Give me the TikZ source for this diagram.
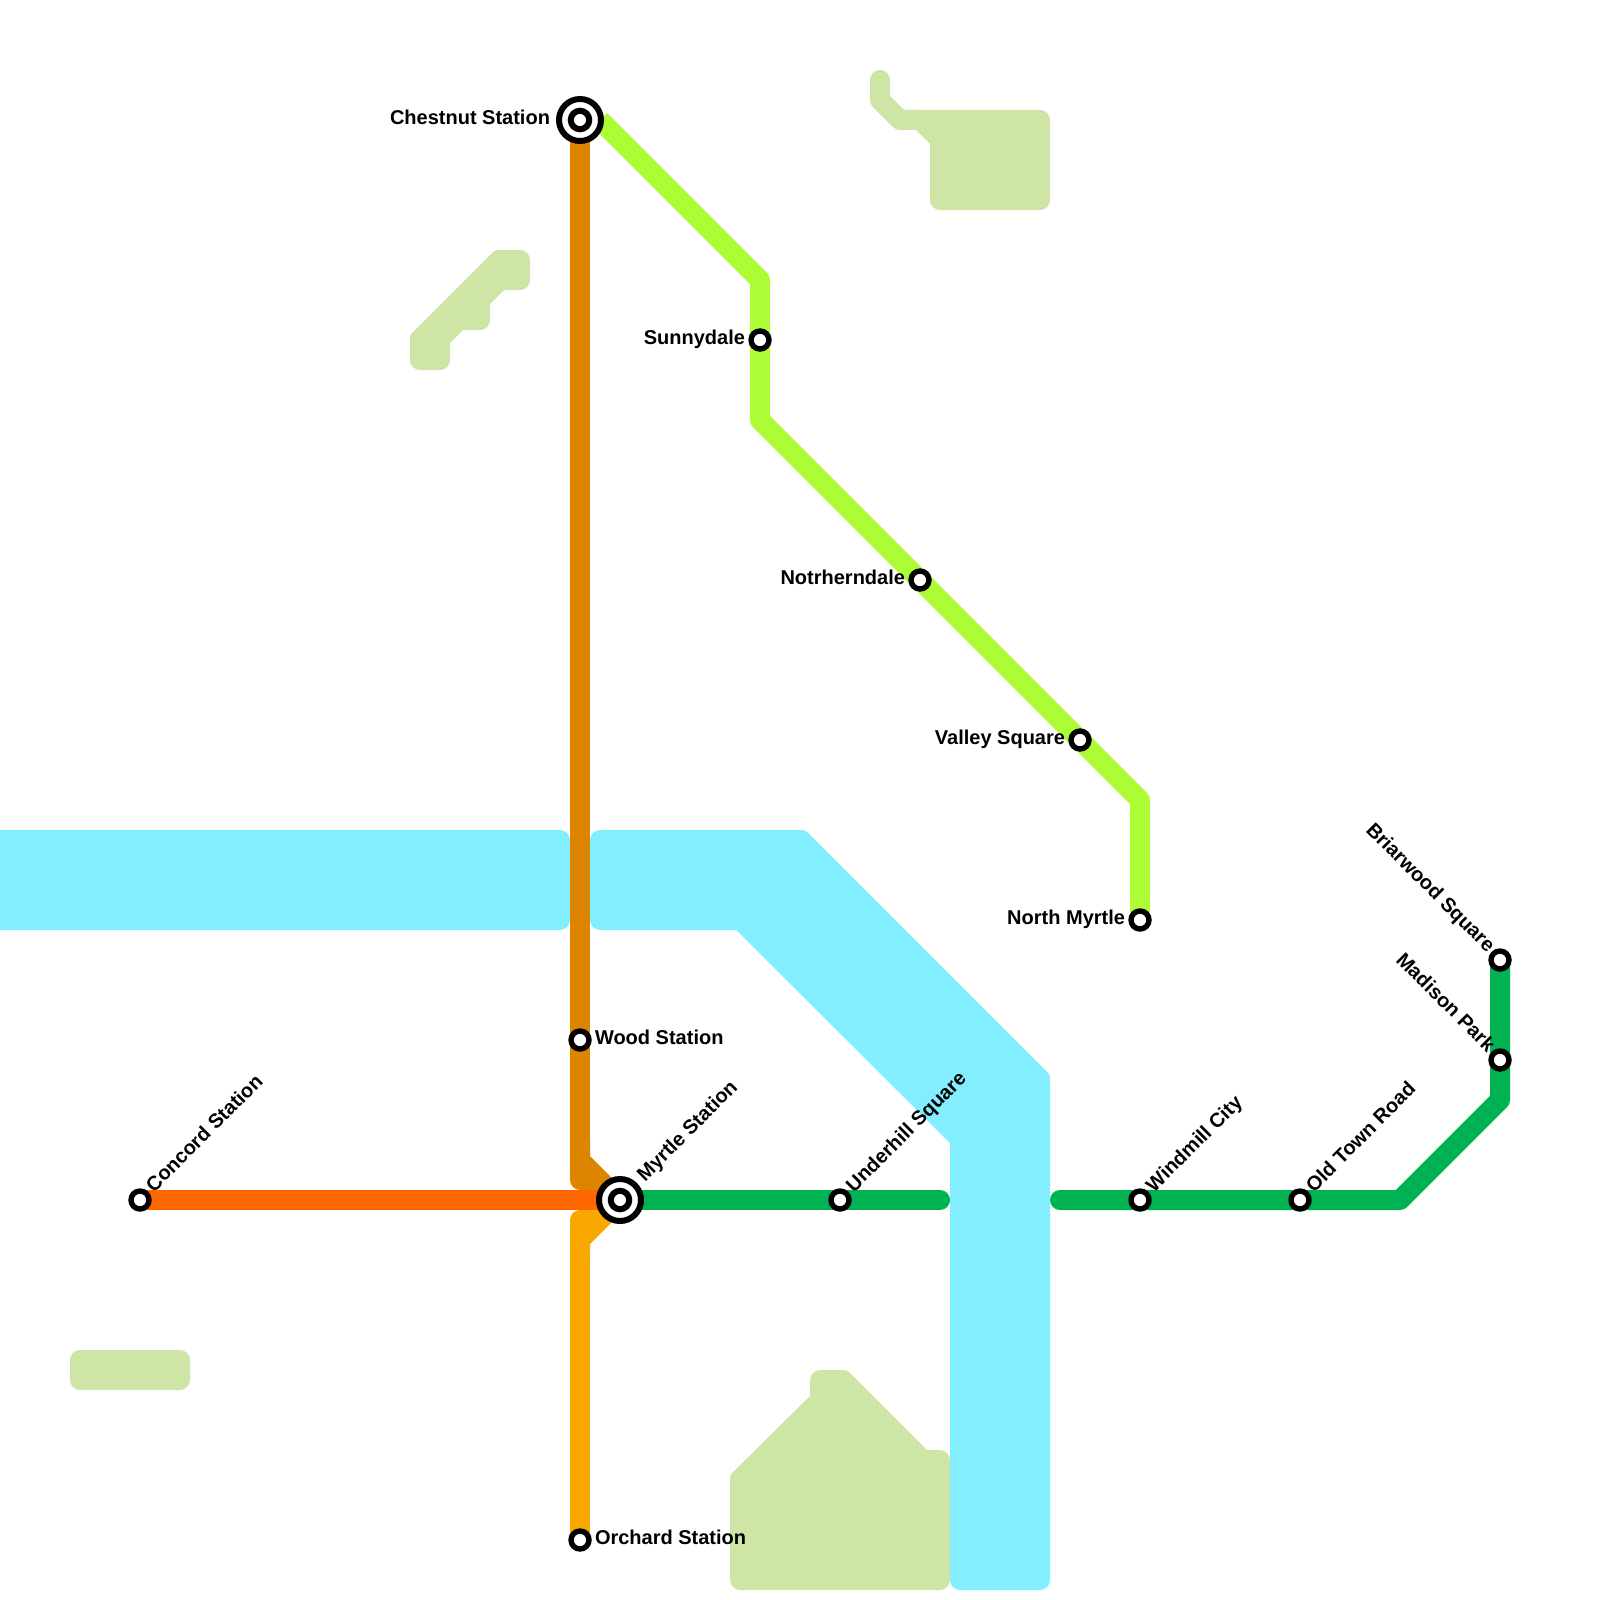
\documentclass[tikz,border=0pt]{standalone}
\usepackage{fontspec}
\setmainfont{Liberation Sans}
\pgfdeclarelayer{under}
\pgfsetlayers{under,main}
\definecolor{river}{HTML}{82EEFF}
\definecolor{park}{HTML}{CFE5A6}
\definecolor{lgreen}{HTML}{00B251}
\definecolor{llime}{HTML}{AEFC36}
\definecolor{lbrown}{HTML}{DD8500}
\definecolor{lred}{HTML}{FF6600}
\definecolor{lamber}{HTML}{F9A800}
\tikzset{
 x=1pt,y=-1pt,
 stn/.style={circle,draw=black,fill=white,line width=5.4pt,minimum size=18pt,inner sep=0pt,outer sep=0pt},
 stnbig/.style={circle,draw=black,fill=white,line width=6pt,minimum size=42pt,inner sep=0pt,outer sep=0pt},
 stnin/.style={circle,draw=black,fill=white,line width=6pt,minimum size=18.5pt,inner sep=0pt,outer sep=0pt},
 txt/.style={font=\fontsize{20}{24}\selectfont\bfseries,inner sep=0pt,outer sep=0pt,text=black},
 lineL/.style={txt,anchor=mid east},
 lineR/.style={txt,anchor=mid west},
 lineU/.style={txt,anchor=base west,rotate=45},
 lineD/.style={txt,anchor=base east,rotate=-45},
 track/.style={line width=20pt,line join=round,line cap=round},
}
\begin{document}
\begin{tikzpicture}
\useasboundingbox (0,0) rectangle (1600,1600);
\clip (0,0) rectangle (1600,1600);
% stations
\node[stnbig] (chestnut) at (580,120) {};
\node[stnin] (chestnutin) at (580,120) {};
\node[stn] (sunnydale) at (760,340) {};
\node[stn] (notrherndale) at (920,580) {};
\node[stn] (valley) at (1080,740) {};
\node[stn] (northmyrtle) at (1140,920) {};
\node[stn] (wood) at (580,1040) {};
\node[stn] (orchard) at (580,1540) {};
\node[stn] (concord) at (140,1200) {};
\node[stnbig] (myrtle) at (620,1200) {};
\node[stnin] (myrtlein) at (620,1200) {};
\node[stn] (underhill) at (840,1200) {};
\node[stn] (windmill) at (1140,1200) {};
\node[stn] (oldtown) at (1300,1200) {};
\node[stn] (madison) at (1500,1060) {};
\node[stn] (briarwood) at (1500,960) {};
% labels
\node[lineL] (tchestnut) at (550,122) {Chestnut Station};
\node[lineL] (tsunny) at (745,342) {Sunnydale};
\node[lineL] (tnot) at (905,582) {Notrherndale};
\node[lineL] (tvalley) at (1065,742) {Valley Square};
\node[lineL] (tnorth) at (1125,922) {North Myrtle};
\node[lineR] (twood) at (595,1042) {Wood Station};
\node[lineR] (torchard) at (595,1542) {Orchard Station};
\node[lineU] (tconcord) at (154,1193) {Concord Station};
\node[lineU] (tmyrtle) at (645,1182) {Myrtle Station};
\node[lineU] (tunder) at (854,1193) {Underhill Square};
\node[lineU] (twind) at (1154,1193) {Windmill City};
\node[lineU] (told) at (1314,1193) {Old Town Road};
\node[lineD] (tbriar) at (1487,953) {Briarwood Square};
\node[lineD] (tmad) at (1487,1053) {Madison Park};
\begin{pgfonlayer}{under}
% rivers
\fill[river] (-20,830) [rounded corners=10pt] -- (570,830) -- (570,930) [sharp corners] -- (-20,930) -- cycle;
\fill[river] (590,880) [rounded corners=10pt] -- (590,830) [rounded corners=2pt] -- (805,830) -- (1050,1075) [rounded corners=10pt] -- (1050,1590) -- (950,1590) [sharp corners] -- (950,1143) -- (736,930) [rounded corners=10pt] -- (590,930) -- cycle;
% parks
\fill[park] (410,350) [rounded corners=2pt] -- (410,335) -- (495,250) [rounded corners=10pt] -- (530,250) -- (530,290) [sharp corners] -- (504,290) -- (490,304) [rounded corners=10pt] -- (490,330) [sharp corners] -- (463,330) -- (450,343) [rounded corners=10pt] -- (450,370) -- (410,370) -- cycle;
\draw[park,track] (880,80) -- (880,100) [sharp corners] -- (900,120) -- (920,120);
\fill[park] (940,110) [rounded corners=10pt] -- (1050,110) -- (1050,210) -- (930,210) [sharp corners] -- (930,144) -- (916,130) -- (900,130) -- (900,110) -- cycle;
\fill[park] (730,1530) [rounded corners=2pt] -- (730,1475) [sharp corners] -- (810,1396) [rounded corners=10pt] -- (810,1370) [rounded corners=3pt] -- (847,1370) [sharp corners] -- (927,1450) [rounded corners=10pt] -- (950,1450) -- (950,1590) -- (730,1590) -- cycle;
\fill[park,rounded corners=10pt] (70,1350) rectangle (190,1390);
% lines
\draw[track,lred] (concord.center) -- (myrtle.center);
\draw[track,lgreen,line cap=round] (myrtle.center) -- (underhill.center) -- (940,1200);
\draw[track,lgreen] (1060,1200) -- (windmill.center) -- (oldtown.center) -- (1400,1200) -- (1500,1100) -- (madison.center) -- (briarwood.center);
\draw[track,llime,line cap=butt] (600,120) -- (760,280) -- (sunnydale.center) -- (760,420) -- (notrherndale.center) -- (valley.center) -- (1140,800) -- (northmyrtle.center);
\draw[track,lbrown,line cap=butt] (chestnut.center) -- (wood.center) -- (580,1141);
\fill[lbrown] (570,1140) -- (590,1140) -- (590,1156) -- (624,1190) [rounded corners=10pt] -- (570,1190) [sharp corners] -- cycle;
\draw[track,lamber,line cap=butt] (orchard.center) -- (580,1259);
\fill[lamber] (590,1260) -- (590,1244) -- (624,1210) [rounded corners=10pt] -- (570,1210) [sharp corners] -- (570,1260) -- cycle;
\end{pgfonlayer}
\end{tikzpicture}
\end{document}
